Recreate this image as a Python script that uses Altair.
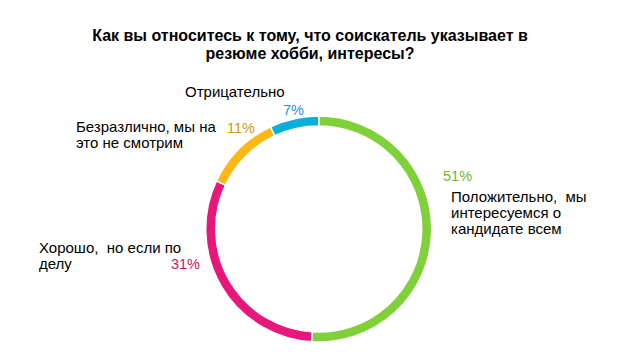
import altair as alt
import pandas as pd

# Data
categories = [
    "Положительно,  мы интересуемся о кандидате всем",
    "Хорошо,  но если по делу",
    "Безразлично, мы на это не смотрим",
    "Отрицательно",
]
values = [51, 31, 11, 7]
pct_labels = ["51%", "31%", "11%", "7%"]
slice_colors = ["#80D03A", "#E8177C", "#FDB813", "#0AAEDB"]
pct_colors = ["#6DB834", "#C8195F", "#D39310", "#1E8FE3"]
cat_lines = [
    "Положительно,\u00a0 мы\nинтересуемся о\nкандидате всем",
    "Хорошо,\u00a0 но если по\nделу",
    "Безразлично, мы на\nэто не смотрим",
    "Отрицательно",
]
title_text = "Как вы относитесь к тому, что соискатель указывает в\nрезюме хобби, интересы?"

# Layout (pixel positions of annotations)
CX, CY = 318.7, 229
pct_pos = [(443, 181, "left"), (200, 269, "right"), (227, 133, "left"), (283, 115, "left")]
cat_pos = [(451, 202), (39, 253), (76, 132), (185, 97)]

df = pd.DataFrame({
    "cat": categories,
    "value": values,
    "idx": list(range(len(values))),
})

pct_df = pd.DataFrame({
    "text": pct_labels,
    "x": [p[0] for p in pct_pos],
    "y": [p[1] for p in pct_pos],
    "align": [p[2] for p in pct_pos],
    "color": pct_colors,
})
cat_df = pd.DataFrame({
    "text": cat_lines,
    "x": [p[0] for p in cat_pos],
    "y": [p[1] for p in cat_pos],
})

W, H = 628, 352
FONT = "Liberation Sans"

base = alt.Chart(df)
ring = base.mark_arc(innerRadius=103, outerRadius=113, stroke="white", strokeWidth=1.5).encode(
    theta=alt.Theta("value:Q", stack=True),
    color=alt.Color("cat:N", scale=alt.Scale(domain=categories, range=slice_colors), legend=None),
    order=alt.Order("idx:Q"),
    x=alt.value(CX),
    y=alt.value(CY),
)

xs = alt.X("x:Q", scale=alt.Scale(domain=[0, W], range=[0, W]), axis=None)
ys = alt.Y("y:Q", scale=alt.Scale(domain=[0, H], range=[0, H]), axis=None)

pct_left = alt.Chart(pct_df).transform_filter(alt.datum.align == "left").mark_text(
    align="left", baseline="alphabetic", font=FONT, fontSize=14.5
).encode(x=xs, y=ys, text="text:N", color=alt.Color("color:N", scale=None))
pct_right = alt.Chart(pct_df).transform_filter(alt.datum.align == "right").mark_text(
    align="right", baseline="alphabetic", font=FONT, fontSize=14.5
).encode(x=xs, y=ys, text="text:N", color=alt.Color("color:N", scale=None))

cat_text = alt.Chart(cat_df).mark_text(
    align="left", baseline="alphabetic", font=FONT, fontSize=15, lineBreak="\n",
    lineHeight=16, color="#000000"
).encode(x=xs, y=ys, text="text:N")

title_df = pd.DataFrame({"text": [title_text], "x": [310], "y": [41]})
title = alt.Chart(title_df).mark_text(
    align="center", baseline="alphabetic", font=FONT, fontSize=16, fontWeight="bold",
    lineBreak="\n", lineHeight=18, color="#000000"
).encode(x=xs, y=ys, text="text:N")

chart = alt.layer(ring, pct_left, pct_right, cat_text, title).properties(
    width=W, height=H, padding=0, autosize=alt.AutoSizeParams(type="none"), background="white"
).configure_view(stroke=None).resolve_scale(color="independent")

chart.save("out.html", embed_options={"renderer": "svg", "actions": False})
